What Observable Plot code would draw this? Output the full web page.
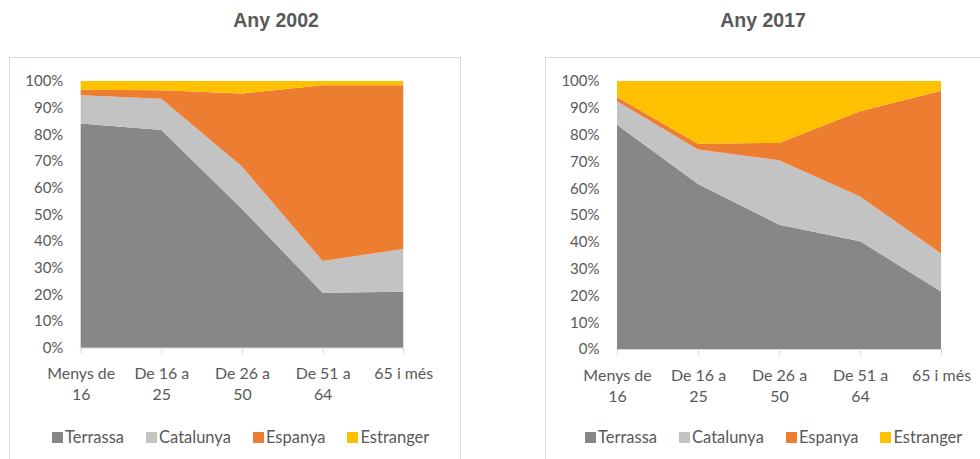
<!DOCTYPE html>
<html>
<head>
<meta charset="utf-8">
<script src="https://cdn.jsdelivr.net/npm/d3@7"></script>
<script src="https://cdn.jsdelivr.net/npm/@observablehq/plot@0.6"></script>
<style>
  html, body { margin: 0; padding: 0; background: #fff; }
  body { width: 980px; height: 459px; position: relative; overflow: hidden; font-family: Lato, "Open Sans", sans-serif; }
  .title { position: absolute; top: 9px; font-family: "Liberation Sans", Arial, sans-serif; font-weight: bold; font-size: 19.5px; color: #595959; transform: translateX(-50%); white-space: nowrap; }
  .box { position: absolute; top: 57px; height: 420px; border: 1px solid #d9d9d9; box-sizing: border-box; background: #fff; }
  .chart { position: absolute; top: 0; left: 0; }
  .legend { position: absolute; top: 427px; display: flex; gap: 22px; font-size: 16.5px; color: #595959; white-space: nowrap; }
  .legend span.item { display: flex; align-items: center; gap: 2px; }
  .legend i { display: inline-block; width: 11px; height: 11px; }
</style>
</head>
<body>
<div class="title" style="left:276px">Any 2002</div>
<div class="title" style="left:763px">Any 2017</div>
<div class="box" id="box1" style="left:9px; width:452px;"></div>
<div class="box" id="box2" style="left:545px; width:460px;"></div>
<script>
const categories = ["Menys de\n16", "De 16 a\n25", "De 26 a\n50", "De 51 a\n64", "65 i més"];
const series = ["Terrassa", "Catalunya", "Espanya", "Estranger"];
const colors = ["#878787", "#c3c3c3", "#ed7d31", "#ffc000"];
const yTicks = [0, 10, 20, 30, 40, 50, 60, 70, 80, 90, 100];

// Any 2002 (percent)
const terrassa2002  = [84.0, 81.6, 52.0, 20.6, 21.0];
const catalunya2002 = [10.6, 11.7, 15.9, 11.9, 16.0];
const espanya2002   = [ 2.1,  3.2, 27.4, 65.9, 61.4];
const estranger2002 = [ 3.3,  3.5,  4.7,  1.6,  1.6];

// Any 2017 (percent)
const terrassa2017  = [83.7, 61.6, 46.4, 40.2, 21.5];
const catalunya2017 = [ 8.7, 12.8, 24.0, 16.7, 14.1];
const espanya2017   = [ 1.6,  2.2,  6.5, 31.8, 60.8];
const estranger2017 = [ 6.0, 23.4, 23.1, 11.3,  3.6];

function rows(arrays) {
  const out = [];
  series.forEach((s, si) => {
    categories.forEach((c, ci) => out.push({cat: c, value: arrays[si][ci], series: s}));
  });
  return out;
}

function chart(arrays) {
  return Plot.plot({
    width: 452,
    height: 360,
    marginLeft: 71,
    marginRight: 55,
    marginTop: 24,
    marginBottom: 68,
    style: {fontFamily: "Lato, 'Open Sans', sans-serif", background: "transparent", overflow: "visible"},
    x: {type: "point", domain: categories, padding: 0},
    y: {domain: [0, 100]},
    color: {domain: series, range: colors},
    marks: [
      Plot.areaY(rows(arrays), Plot.stackY({x: "cat", y: "value", fill: "series", order: null})),
      Plot.ruleY([0], {stroke: "#d9d9d9", strokeWidth: 1}),
      Plot.axisX({
        tickSize: 6, tickPadding: 10, stroke: "#d9d9d9", fill: "#595959",
        fontSize: 16, lineHeight: 1.32, label: null
      }),
      Plot.axisY({
        ticks: yTicks, tickSize: 0, tickPadding: 17, tickFormat: d => d + "%",
        fill: "#595959", fontSize: 15, label: null
      })
    ]
  });
}

function legend() {
  const div = document.createElement("div");
  div.className = "legend";
  series.forEach((s, i) => {
    const item = document.createElement("span");
    item.className = "item";
    const sw = document.createElement("i");
    sw.style.background = colors[i];
    item.appendChild(sw);
    item.appendChild(document.createTextNode(s));
    div.appendChild(item);
  });
  return div;
}

const panels = [
  {box: "box1", arrays: [terrassa2002, catalunya2002, espanya2002, estranger2002], legendLeft: 52},
  {box: "box2", arrays: [terrassa2017, catalunya2017, espanya2017, estranger2017], legendLeft: 585}
];

panels.forEach(p => {
  const el = document.getElementById(p.box);
  const svg = chart(p.arrays);
  svg.classList.add("chart");
  svg.style.left = "-1px";
  svg.style.top = "-1px";
  svg.style.position = "absolute";
  el.appendChild(svg);
  const lg = legend();
  lg.style.left = p.legendLeft + "px";
  document.body.appendChild(lg);
});
</script>
</body>
</html>
